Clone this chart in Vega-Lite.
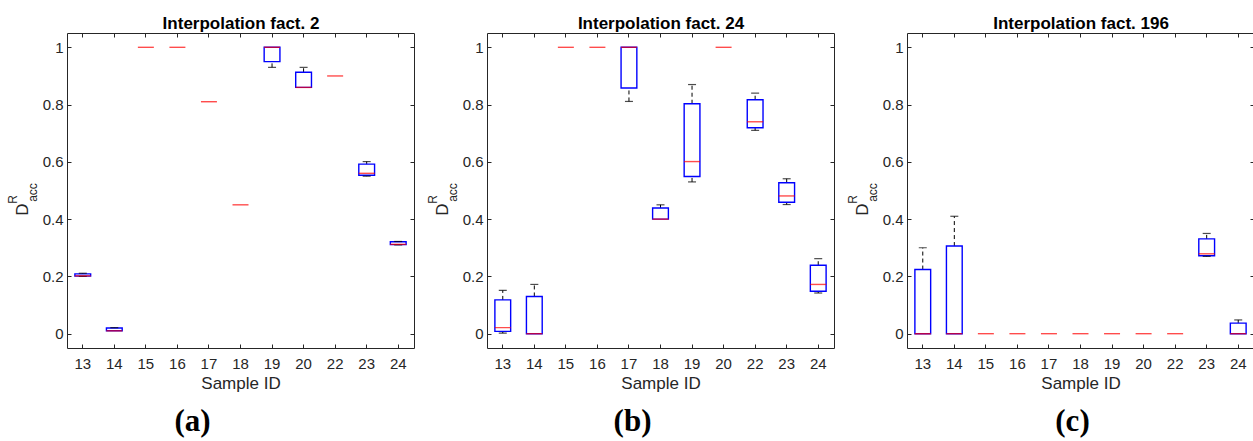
{
  "$schema": "https://vega.github.io/schema/vega-lite/v6.json",
  "background": "white",
  "padding": {"left": 5, "top": 14, "right": 0, "bottom": 5},
  "bounds": "flush",
  "spacing": 73,
  "config": {
    "font": "Liberation Sans",
    "view": {"stroke": "#262626", "strokeWidth": 1},
    "axis": {"labelFont": "Liberation Sans", "titleFont": "Liberation Sans", "labelColor": "#262626", "titleColor": "#262626", "tickColor": "#262626", "labelFontSize": 15, "titleFontSize": 17, "titleFontWeight": "normal", "grid": false, "domain": false}
  },
  "datasets": {
    "a": [
      {"id": 13, "lo": 0.2, "q1": 0.201, "med": 0.202, "q3": 0.209, "hi": 0.211},
      {"id": 14, "lo": 0.01, "q1": 0.01, "med": 0.01, "q3": 0.02, "hi": 0.021},
      {"id": 15, "lo": 1, "q1": 1, "med": 1, "q3": 1, "hi": 1},
      {"id": 16, "lo": 1, "q1": 1, "med": 1, "q3": 1, "hi": 1},
      {"id": 17, "lo": 0.81, "q1": 0.81, "med": 0.81, "q3": 0.81, "hi": 0.81},
      {"id": 18, "lo": 0.45, "q1": 0.45, "med": 0.45, "q3": 0.45, "hi": 0.45},
      {"id": 19, "lo": 0.93, "q1": 0.95, "med": 1, "q3": 1, "hi": 1},
      {"id": 20, "lo": 0.86, "q1": 0.86, "med": 0.86, "q3": 0.913, "hi": 0.93},
      {"id": 22, "lo": 0.9, "q1": 0.9, "med": 0.9, "q3": 0.9, "hi": 0.9},
      {"id": 23, "lo": 0.55, "q1": 0.553, "med": 0.56, "q3": 0.592, "hi": 0.601},
      {"id": 24, "lo": 0.31, "q1": 0.311, "med": 0.312, "q3": 0.321, "hi": 0.322}
    ],
    "b": [
      {"id": 13, "lo": 0.002, "q1": 0.008, "med": 0.021, "q3": 0.118, "hi": 0.151},
      {"id": 14, "lo": 0, "q1": 0, "med": 0, "q3": 0.13, "hi": 0.172},
      {"id": 15, "lo": 1, "q1": 1, "med": 1, "q3": 1, "hi": 1},
      {"id": 16, "lo": 1, "q1": 1, "med": 1, "q3": 1, "hi": 1},
      {"id": 17, "lo": 0.811, "q1": 0.858, "med": 1, "q3": 1, "hi": 1},
      {"id": 18, "lo": 0.4, "q1": 0.4, "med": 0.4, "q3": 0.439, "hi": 0.45},
      {"id": 19, "lo": 0.53, "q1": 0.549, "med": 0.601, "q3": 0.803, "hi": 0.87},
      {"id": 20, "lo": 1, "q1": 1, "med": 1, "q3": 1, "hi": 1},
      {"id": 22, "lo": 0.71, "q1": 0.719, "med": 0.74, "q3": 0.817, "hi": 0.84},
      {"id": 23, "lo": 0.451, "q1": 0.459, "med": 0.481, "q3": 0.527, "hi": 0.541},
      {"id": 24, "lo": 0.142, "q1": 0.148, "med": 0.172, "q3": 0.239, "hi": 0.262}
    ],
    "c": [
      {"id": 13, "lo": 0, "q1": 0, "med": 0, "q3": 0.224, "hi": 0.3},
      {"id": 14, "lo": 0, "q1": 0, "med": 0, "q3": 0.306, "hi": 0.41},
      {"id": 15, "lo": 0, "q1": 0, "med": 0, "q3": 0, "hi": 0},
      {"id": 16, "lo": 0, "q1": 0, "med": 0, "q3": 0, "hi": 0},
      {"id": 17, "lo": 0, "q1": 0, "med": 0, "q3": 0, "hi": 0},
      {"id": 18, "lo": 0, "q1": 0, "med": 0, "q3": 0, "hi": 0},
      {"id": 19, "lo": 0, "q1": 0, "med": 0, "q3": 0, "hi": 0},
      {"id": 20, "lo": 0, "q1": 0, "med": 0, "q3": 0, "hi": 0},
      {"id": 22, "lo": 0, "q1": 0, "med": 0, "q3": 0, "hi": 0},
      {"id": 23, "lo": 0.27, "q1": 0.272, "med": 0.279, "q3": 0.331, "hi": 0.35},
      {"id": 24, "lo": 0, "q1": 0, "med": 0, "q3": 0.037, "hi": 0.048}
    ]
  },
  "hconcat": [
    {
      "width": 347, "height": 315,
      "data": {"name": "a"},
      "title": {"text": "(a)", "orient": "bottom", "font": "Liberation Serif", "fontSize": 31, "fontWeight": "bold", "color": "black", "dx": -48, "offset": 16},
      "resolve": {"axis": {"x": "independent", "y": "independent"}},
      "layer": [
        {
          "transform": [{"filter": "datum.lo < datum.q1"}],
          "mark": {"type": "rule", "color": "black", "strokeDash": [4, 3], "strokeWidth": 1},
          "encoding": {
            "x": {"field": "id", "type": "ordinal", "scale": {"paddingInner": 0, "paddingOuter": 0}, "axis": {"orient": "bottom", "labelAngle": 0, "tickSize": -4, "labelPadding": 12, "title": "Sample ID", "titlePadding": 4}},
            "y": {"field": "lo", "type": "quantitative", "scale": {"domain": [-0.05, 1.05], "nice": false, "zero": false}, "axis": {"orient": "left", "values": [0, 0.2, 0.4, 0.6, 0.8, 1], "format": "~g", "tickSize": -4, "labelPadding": 8, "title": "D", "titleFontSize": 17, "titleAngle": -90, "titleAlign": "center", "titleBaseline": "alphabetic", "titleX": -40, "titleY": 176}},
            "y2": {"field": "q1"}
          }
        },
        {
          "transform": [{"filter": "datum.hi > datum.q3"}],
          "mark": {"type": "rule", "color": "black", "strokeDash": [4, 3], "strokeWidth": 1},
          "encoding": {
            "x": {"field": "id", "type": "ordinal", "axis": {"orient": "top", "labels": false, "tickSize": -4, "title": "Interpolation fact. 2", "titleFontWeight": "bold", "titleColor": "black", "titlePadding": 0}},
            "y": {"field": "q3", "type": "quantitative", "axis": {"orient": "right", "values": [0, 0.2, 0.4, 0.6, 0.8, 1], "labels": false, "tickSize": -4, "title": null}},
            "y2": {"field": "hi"}
          }
        },
        {
          "transform": [{"filter": "datum.q3 > datum.q1"}],
          "mark": {"type": "bar", "width": {"band": 0.5}, "fill": "white", "fillOpacity": 0, "stroke": "#0000ff", "strokeWidth": 1.4},
          "encoding": {
            "x": {"field": "id", "type": "ordinal", "axis": null},
            "y": {"field": "q1", "type": "quantitative", "axis": {"orient": "left", "labels": false, "ticks": false, "title": "R", "titleFontSize": 12, "titleAngle": -90, "titleAlign": "center", "titleBaseline": "alphabetic", "titleX": -51, "titleY": 166}},
            "y2": {"field": "q3"}
          }
        },
        {
          "transform": [{"filter": "datum.lo < datum.q1"}],
          "mark": {"type": "tick", "color": "black", "size": 8, "thickness": 1.2},
          "encoding": {
            "x": {"field": "id", "type": "ordinal", "axis": null},
            "y": {"field": "lo", "type": "quantitative", "axis": {"orient": "left", "labels": false, "ticks": false, "title": "acc", "titleFontSize": 12, "titleAngle": -90, "titleAlign": "center", "titleBaseline": "alphabetic", "titleX": -31, "titleY": 159}}
          }
        },
        {
          "transform": [{"filter": "datum.hi > datum.q3"}],
          "mark": {"type": "tick", "color": "black", "size": 8, "thickness": 1.2},
          "encoding": {
            "x": {"field": "id", "type": "ordinal", "axis": null},
            "y": {"field": "hi", "type": "quantitative", "axis": null}
          }
        },
        {
          "mark": {"type": "tick", "color": "#ff0000", "size": 16, "thickness": 1.4},
          "encoding": {
            "x": {"field": "id", "type": "ordinal", "axis": null},
            "y": {"field": "med", "type": "quantitative", "axis": null}
          }
        }
      ]
    },
    {
      "width": 347, "height": 315,
      "data": {"name": "b"},
      "title": {"text": "(b)", "orient": "bottom", "font": "Liberation Serif", "fontSize": 31, "fontWeight": "bold", "color": "black", "dx": -28, "offset": 16},
      "resolve": {"axis": {"x": "independent", "y": "independent"}},
      "layer": [
        {
          "transform": [{"filter": "datum.lo < datum.q1"}],
          "mark": {"type": "rule", "color": "black", "strokeDash": [4, 3], "strokeWidth": 1},
          "encoding": {
            "x": {"field": "id", "type": "ordinal", "scale": {"paddingInner": 0, "paddingOuter": 0}, "axis": {"orient": "bottom", "labelAngle": 0, "tickSize": -4, "labelPadding": 12, "title": "Sample ID", "titlePadding": 4}},
            "y": {"field": "lo", "type": "quantitative", "scale": {"domain": [-0.05, 1.05], "nice": false, "zero": false}, "axis": {"orient": "left", "values": [0, 0.2, 0.4, 0.6, 0.8, 1], "format": "~g", "tickSize": -4, "labelPadding": 8, "title": "D", "titleFontSize": 17, "titleAngle": -90, "titleAlign": "center", "titleBaseline": "alphabetic", "titleX": -40, "titleY": 176}},
            "y2": {"field": "q1"}
          }
        },
        {
          "transform": [{"filter": "datum.hi > datum.q3"}],
          "mark": {"type": "rule", "color": "black", "strokeDash": [4, 3], "strokeWidth": 1},
          "encoding": {
            "x": {"field": "id", "type": "ordinal", "axis": {"orient": "top", "labels": false, "tickSize": -4, "title": "Interpolation fact. 24", "titleFontWeight": "bold", "titleColor": "black", "titlePadding": 0}},
            "y": {"field": "q3", "type": "quantitative", "axis": {"orient": "right", "values": [0, 0.2, 0.4, 0.6, 0.8, 1], "labels": false, "tickSize": -4, "title": null}},
            "y2": {"field": "hi"}
          }
        },
        {
          "transform": [{"filter": "datum.q3 > datum.q1"}],
          "mark": {"type": "bar", "width": {"band": 0.5}, "fill": "white", "fillOpacity": 0, "stroke": "#0000ff", "strokeWidth": 1.4},
          "encoding": {
            "x": {"field": "id", "type": "ordinal", "axis": null},
            "y": {"field": "q1", "type": "quantitative", "axis": {"orient": "left", "labels": false, "ticks": false, "title": "R", "titleFontSize": 12, "titleAngle": -90, "titleAlign": "center", "titleBaseline": "alphabetic", "titleX": -51, "titleY": 166}},
            "y2": {"field": "q3"}
          }
        },
        {
          "transform": [{"filter": "datum.lo < datum.q1"}],
          "mark": {"type": "tick", "color": "black", "size": 8, "thickness": 1.2},
          "encoding": {
            "x": {"field": "id", "type": "ordinal", "axis": null},
            "y": {"field": "lo", "type": "quantitative", "axis": {"orient": "left", "labels": false, "ticks": false, "title": "acc", "titleFontSize": 12, "titleAngle": -90, "titleAlign": "center", "titleBaseline": "alphabetic", "titleX": -31, "titleY": 159}}
          }
        },
        {
          "transform": [{"filter": "datum.hi > datum.q3"}],
          "mark": {"type": "tick", "color": "black", "size": 8, "thickness": 1.2},
          "encoding": {
            "x": {"field": "id", "type": "ordinal", "axis": null},
            "y": {"field": "hi", "type": "quantitative", "axis": null}
          }
        },
        {
          "mark": {"type": "tick", "color": "#ff0000", "size": 16, "thickness": 1.4},
          "encoding": {
            "x": {"field": "id", "type": "ordinal", "axis": null},
            "y": {"field": "med", "type": "quantitative", "axis": null}
          }
        }
      ]
    },
    {
      "width": 347, "height": 315,
      "data": {"name": "c"},
      "title": {"text": "(c)", "orient": "bottom", "font": "Liberation Serif", "fontSize": 31, "fontWeight": "bold", "color": "black", "dx": -8, "offset": 16},
      "resolve": {"axis": {"x": "independent", "y": "independent"}},
      "layer": [
        {
          "transform": [{"filter": "datum.lo < datum.q1"}],
          "mark": {"type": "rule", "color": "black", "strokeDash": [4, 3], "strokeWidth": 1},
          "encoding": {
            "x": {"field": "id", "type": "ordinal", "scale": {"paddingInner": 0, "paddingOuter": 0}, "axis": {"orient": "bottom", "labelAngle": 0, "tickSize": -4, "labelPadding": 12, "title": "Sample ID", "titlePadding": 4}},
            "y": {"field": "lo", "type": "quantitative", "scale": {"domain": [-0.05, 1.05], "nice": false, "zero": false}, "axis": {"orient": "left", "values": [0, 0.2, 0.4, 0.6, 0.8, 1], "format": "~g", "tickSize": -4, "labelPadding": 8, "title": "D", "titleFontSize": 17, "titleAngle": -90, "titleAlign": "center", "titleBaseline": "alphabetic", "titleX": -40, "titleY": 176}},
            "y2": {"field": "q1"}
          }
        },
        {
          "transform": [{"filter": "datum.hi > datum.q3"}],
          "mark": {"type": "rule", "color": "black", "strokeDash": [4, 3], "strokeWidth": 1},
          "encoding": {
            "x": {"field": "id", "type": "ordinal", "axis": {"orient": "top", "labels": false, "tickSize": -4, "title": "Interpolation fact. 196", "titleFontWeight": "bold", "titleColor": "black", "titlePadding": 0}},
            "y": {"field": "q3", "type": "quantitative", "axis": {"orient": "right", "values": [0, 0.2, 0.4, 0.6, 0.8, 1], "labels": false, "tickSize": -4, "title": null}},
            "y2": {"field": "hi"}
          }
        },
        {
          "transform": [{"filter": "datum.q3 > datum.q1"}],
          "mark": {"type": "bar", "width": {"band": 0.5}, "fill": "white", "fillOpacity": 0, "stroke": "#0000ff", "strokeWidth": 1.4},
          "encoding": {
            "x": {"field": "id", "type": "ordinal", "axis": null},
            "y": {"field": "q1", "type": "quantitative", "axis": {"orient": "left", "labels": false, "ticks": false, "title": "R", "titleFontSize": 12, "titleAngle": -90, "titleAlign": "center", "titleBaseline": "alphabetic", "titleX": -51, "titleY": 166}},
            "y2": {"field": "q3"}
          }
        },
        {
          "transform": [{"filter": "datum.lo < datum.q1"}],
          "mark": {"type": "tick", "color": "black", "size": 8, "thickness": 1.2},
          "encoding": {
            "x": {"field": "id", "type": "ordinal", "axis": null},
            "y": {"field": "lo", "type": "quantitative", "axis": {"orient": "left", "labels": false, "ticks": false, "title": "acc", "titleFontSize": 12, "titleAngle": -90, "titleAlign": "center", "titleBaseline": "alphabetic", "titleX": -31, "titleY": 159}}
          }
        },
        {
          "transform": [{"filter": "datum.hi > datum.q3"}],
          "mark": {"type": "tick", "color": "black", "size": 8, "thickness": 1.2},
          "encoding": {
            "x": {"field": "id", "type": "ordinal", "axis": null},
            "y": {"field": "hi", "type": "quantitative", "axis": null}
          }
        },
        {
          "mark": {"type": "tick", "color": "#ff0000", "size": 16, "thickness": 1.4},
          "encoding": {
            "x": {"field": "id", "type": "ordinal", "axis": null},
            "y": {"field": "med", "type": "quantitative", "axis": null}
          }
        }
      ]
    }
  ]
}
